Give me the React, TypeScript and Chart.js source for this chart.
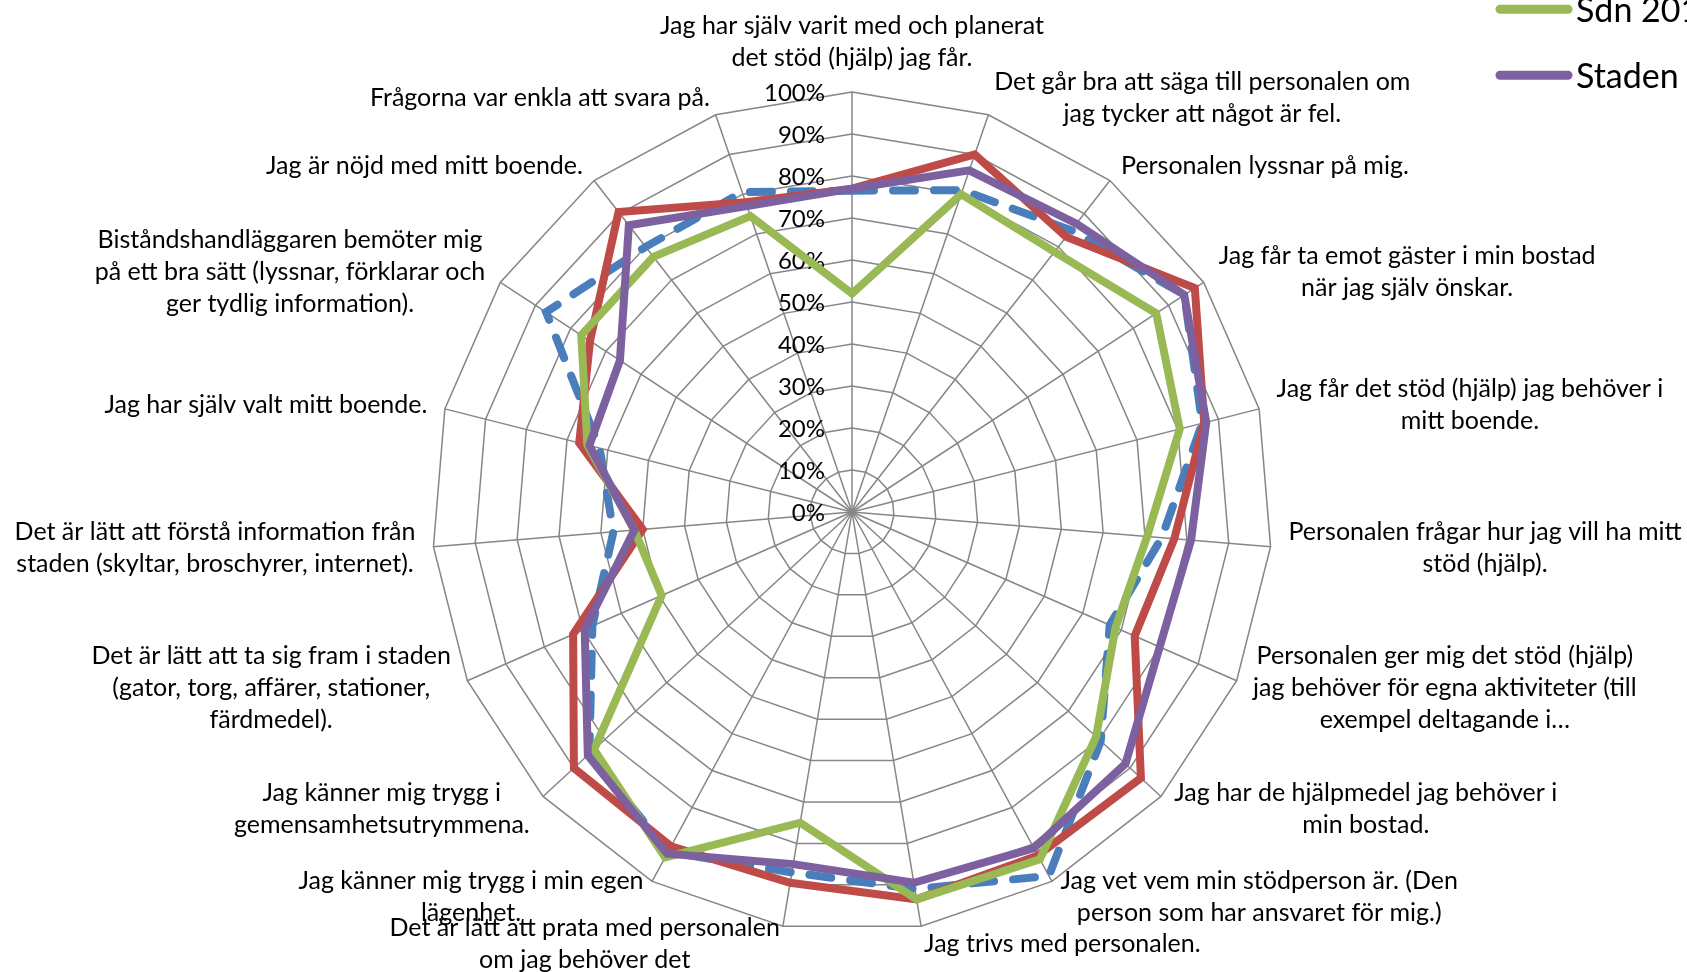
import React, { useEffect, useRef } from "react";
import { Chart, registerables } from "chart.js";

Chart.register(...registerables);

const W = 1687;
const H = 972;
const FONT = "Lato, 'Open Sans', sans-serif";
const LABEL_SIZE = 25;
const TICK_SIZE = 24;
const LINE_H = 32;
const LABEL_GAP = 18;

const categories: string[][] = [
  ["Jag har själv varit med och planerat", "det stöd (hjälp) jag får."],
  ["Det går bra att säga till personalen om", "jag tycker att något är fel."],
  ["Personalen lyssnar på mig."],
  ["Jag får ta emot gäster i min bostad", "när jag själv önskar."],
  ["Jag får det stöd (hjälp) jag behöver i", "mitt boende."],
  ["Personalen frågar hur jag vill ha mitt", "stöd (hjälp)."],
  ["Personalen ger mig det stöd (hjälp)", "jag behöver för egna aktiviteter (till", "exempel deltagande i…"],
  ["Jag har de hjälpmedel jag behöver i", "min bostad."],
  ["Jag vet vem min stödperson är. (Den", "person som har ansvaret för mig.)"],
  ["Jag trivs med personalen."],
  ["Det är lätt att prata med personalen", "om jag behöver det"],
  ["Jag känner mig trygg i min egen", "lägenhet."],
  ["Jag känner mig trygg i", "gemensamhetsutrymmena."],
  ["Det är lätt att ta sig fram i staden", "(gator, torg, affärer, stationer,", "färdmedel)."],
  ["Det är lätt att förstå information från", "staden (skyltar, broschyrer, internet)."],
  ["Jag har själv valt mitt boende."],
  ["Biståndshandläggaren bemöter mig", "på ett bra sätt (lyssnar, förklarar och", "ger tydlig information)."],
  ["Jag är nöjd med mitt boende."],
  ["Frågorna var enkla att svara på."],
];

const seriesNames = ["Sdn 2011", "Sdn 2012", "Sdn 2013", "Staden"];

const sdn2011 = [76.5, 81, 85, 94.5, 86, 74, 67, 80.5, 98.5, 91, 87, 92, 85, 67.5, 57, 62, 87, 80, 80.5];
const sdn2012 = [77, 90, 83, 97.5, 86.5, 77, 73.5, 93.5, 93, 93.5, 89.5, 90.5, 90, 72.5, 50, 67, 74.5, 90.5, 78];
const sdn2013 = [52, 80, 78.5, 86.5, 80.5, 70.5, 68.5, 79, 94, 93.5, 75, 93.5, 83.5, 49.5, 52, 65, 77, 77, 74.5];
const staden = [77, 86, 87, 94.5, 87, 81, 80, 88.5, 91, 89.5, 85, 92.5, 85.5, 69.5, 52, 64.5, 66, 86.5, 77];

const tickValues = [0, 10, 20, 30, 40, 50, 60, 70, 80, 90, 100];
const tickLabels = tickValues.map((v) => v + "%");

const BLUE = "#4A7EBB";
const RED = "#BE4B48";
const GREEN = "#98B954";
const PURPLE = "#7D60A0";
const GRID = "#868686";

export default function App() {
  const ref = useRef<HTMLCanvasElement>(null);

  useEffect(() => {
    if (!ref.current) return;

    const tickPlugin = {
      id: "tickText",
      beforeDatasetsDraw(chart: any) {
        const scale = chart.scales.r;
        const ctx = chart.ctx;
        ctx.save();
        ctx.font = `${TICK_SIZE}px ${FONT}`;
        ctx.fillStyle = "#000";
        ctx.textAlign = "right";
        ctx.textBaseline = "middle";
        tickValues.forEach((v, k) => {
          const y = scale.yCenter - scale.getDistanceFromCenterForValue(v);
          ctx.fillText(tickLabels[k], scale.xCenter - 27, y + 1);
        });
        ctx.restore();
      },
    };

    const labelPlugin = {
      id: "catLabels",
      afterDraw(chart: any) {
        const scale = chart.scales.r;
        const ctx = chart.ctx;
        ctx.save();
        ctx.font = `${LABEL_SIZE}px ${FONT}`;
        ctx.fillStyle = "#000";
        ctx.textAlign = "center";
        ctx.textBaseline = "middle";
        categories.forEach((lines, i) => {
          const a = scale.getIndexAngle(i);
          const s = Math.sin(a);
          const c = Math.cos(a);
          const p = scale.getPointPosition(i, scale.drawingArea + LABEL_GAP);
          const w = Math.max(...lines.map((l) => ctx.measureText(l).width));
          const h = lines.length * LINE_H;
          let cx: number;
          let top: number;
          if (Math.abs(s) < 0.05) {
            cx = p.x;
            top = c > 0 ? p.y - h : p.y;
          } else {
            cx = s > 0 ? p.x + w / 2 : p.x - w / 2;
            top = p.y - h / 2;
          }
          lines.forEach((l, k) => ctx.fillText(l, cx, top + LINE_H * (k + 0.5)));
        });

        // legend
        const colors = [BLUE, RED, GREEN, PURPLE];
        const legendSize = 34;
        ctx.font = `${legendSize}px ${FONT}`;
        ctx.textAlign = "left";
        ctx.textBaseline = "alphabetic";
        seriesNames.forEach((name, k) => {
          const y = 75.3 - 66 * (seriesNames.length - 1 - k);
          ctx.strokeStyle = colors[k];
          ctx.lineWidth = 9;
          ctx.lineCap = "round";
          ctx.setLineDash(k === 0 ? [22, 19] : []);
          ctx.beginPath();
          ctx.moveTo(1500, y);
          ctx.lineTo(1568, y);
          ctx.stroke();
          ctx.fillText(name, 1576, y + legendSize * 0.36);
        });
        ctx.restore();
      },
    };

    const common = { fill: false, pointRadius: 0, pointHoverRadius: 0, borderWidth: 8, borderJoinStyle: "miter" as const, tension: 0 };

    const chart = new Chart(ref.current, {
      type: "radar",
      data: {
        labels: categories.map((l) => l.join(" ")),
        datasets: [
          { ...common, label: seriesNames[0], data: sdn2011, borderColor: BLUE, backgroundColor: BLUE, borderDash: [22, 19], borderCapStyle: "round", order: 3 },
          { ...common, label: seriesNames[1], data: sdn2012, borderColor: RED, backgroundColor: RED, order: 2 },
          { ...common, label: seriesNames[2], data: sdn2013, borderColor: GREEN, backgroundColor: GREEN, order: 1 },
          { ...common, label: seriesNames[3], data: staden, borderColor: PURPLE, backgroundColor: PURPLE, order: 0 },
        ],
      },
      options: {
        responsive: false,
        animation: false,
        devicePixelRatio: 1,
        layout: { padding: { left: 432, right: 415, top: 92, bottom: 40 } },
        plugins: { legend: { display: false }, tooltip: { enabled: false } },
        scales: {
          r: {
            min: 0,
            max: 100,
            ticks: { stepSize: 10, display: false },
            grid: { circular: false, color: GRID, lineWidth: 1.5 },
            angleLines: { display: true, color: GRID, lineWidth: 1.5 },
            pointLabels: { display: false },
          },
        },
      },
      plugins: [tickPlugin, labelPlugin],
    } as any);

    return () => chart.destroy();
  }, []);

  return (
    <div style={{ position: "fixed", left: 0, top: 0, width: W, height: H, overflow: "hidden", background: "#fff" }}>
      <canvas ref={ref} width={W} height={H} style={{ display: "block", width: W, height: H }} />
    </div>
  );
}
